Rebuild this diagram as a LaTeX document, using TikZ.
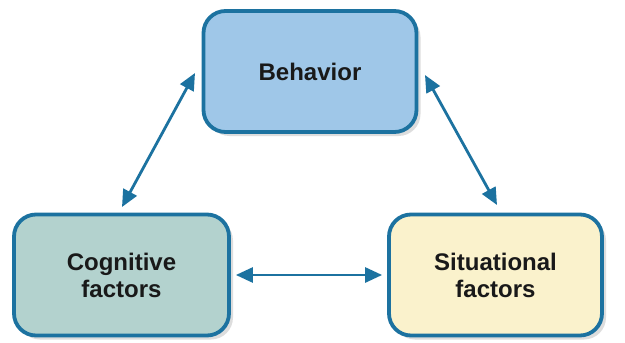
\documentclass[tikz,border=0pt]{standalone}
\usepackage{fontspec}
\setmainfont{Liberation Sans}
\usetikzlibrary{arrows.meta,shadows}
\definecolor{edgeblue}{HTML}{1C72A0}
\definecolor{behfill}{HTML}{9FC7E8}
\definecolor{cogfill}{HTML}{B3D2CE}
\definecolor{sitfill}{HTML}{FAF2CC}
\tikzset{
  factorbox/.style={draw=edgeblue, line width=3.8pt, rounded corners=22pt,
    minimum width=213pt, minimum height=121pt, align=center,
    font=\fontsize{24}{27}\selectfont\bfseries, text=black!90,
    drop shadow={shadow xshift=4pt, shadow yshift=-4pt, opacity=0.22, fill=black!60}},
  link/.style={draw=edgeblue, line width=2.8pt,
    {Triangle[length=17pt,width=15pt]}-{Triangle[length=17pt,width=15pt]}}
}
\begin{document}
\begin{tikzpicture}[x=1pt,y=-1pt]
\useasboundingbox[fill=white] (0,0) rectangle (625,343);
\node[factorbox, fill=behfill] (beh) at (310,71.5) {Behavior};
\node[factorbox, fill=cogfill, minimum width=215pt] (cog) at (121.5,275) {Cognitive\\factors};
\node[factorbox, fill=sitfill, minimum width=213pt] (sit) at (495.5,275) {Situational\\factors};
\coordinate (a1) at (195,73);
\coordinate (a2) at (122,207);
\coordinate (b1) at (425,75);
\coordinate (b2) at (497,205);
\draw[link] (a2) -- (a1);
\draw[link] (b1) -- (b2);
\draw[link] (cog.east) ++(5,0) -- ([xshift=-5pt]sit.west);
\end{tikzpicture}
\end{document}
